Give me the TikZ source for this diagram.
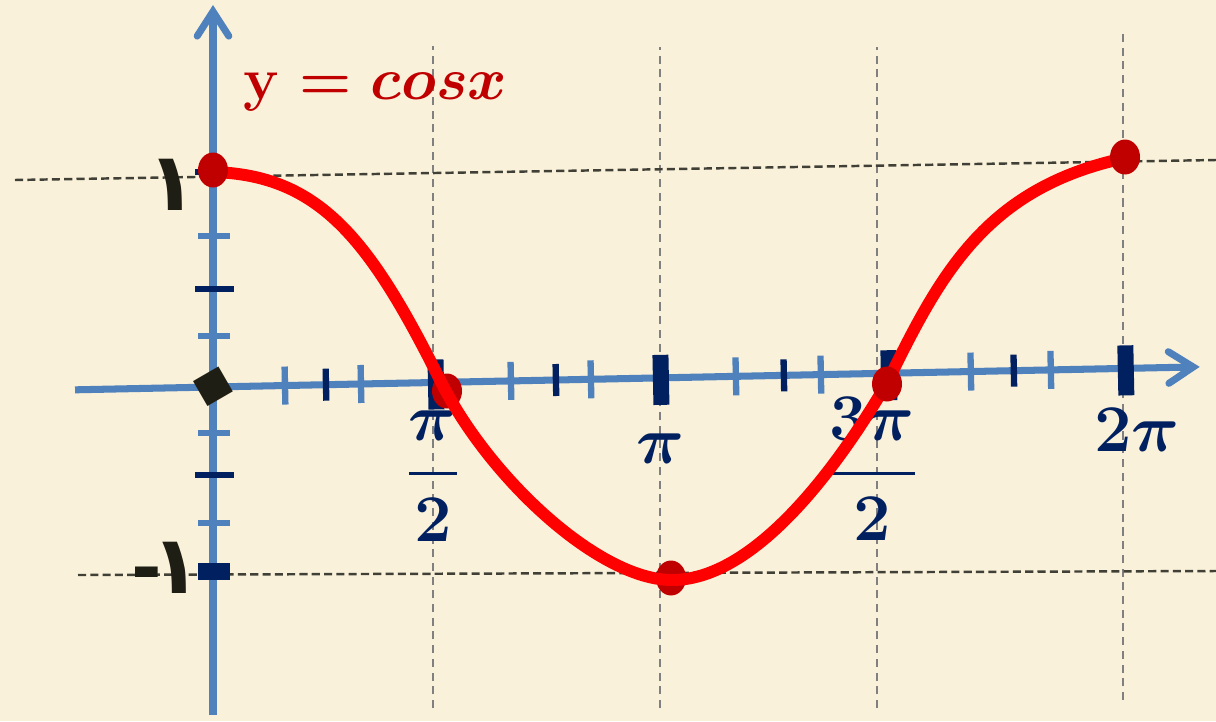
\documentclass[tikz,border=0pt]{standalone}
\usepackage{fix-cm}
\usepackage{amsmath}
\usepackage{fontspec}
\newfontfamily\arabicfont[Script=Arabic]{DejaVu Sans}
\usetikzlibrary{arrows.meta,shapes.geometric}

\definecolor{paper}{RGB}{250,241,218}
\definecolor{axblue}{RGB}{79,129,189}
\definecolor{navy}{RGB}{0,32,96}
\definecolor{darkred}{RGB}{192,0,0}
\definecolor{ink}{RGB}{30,30,20}

\newcommand{\gapfrac}[2]{\genfrac{}{}{0.9pt}{0}{#1\rule[-6pt]{0pt}{0pt}}{\rule{0pt}{15pt}#2}}

\tikzset{
  axline/.style={axblue, line width=2pt, -{Straight Barb[length=7pt,width=9pt,line cap=round]}},
  lbtick/.style={axblue, line width=1.8pt},
  nvtick/.style={navy, line width=1.8pt},
  hdash/.style={ink!85, line width=0.7pt, dash pattern=on 2.3pt off 1.2pt},
  vdash/.style={gray, line width=0.7pt, dash pattern=on 2.3pt off 1.6pt},
  dot/.style={ellipse, fill=darkred, inner sep=0pt, minimum width=0.30cm, minimum height=0.35cm},
  lab/.style={text=navy, inner sep=0pt, font=\fontsize{19}{22}\selectfont\boldmath},
  arab/.style={text=ink, inner sep=0pt, font=\arabicfont\bfseries\fontsize{23}{26}\selectfont}
}

\begin{document}
\begin{tikzpicture}
\fill[paper] (0,0) rectangle (12.16,7.21);
\useasboundingbox (0,0) rectangle (12.16,7.21);

% grid lines
\draw[vdash] (4.33,0.13) -- (4.33,6.75);
\draw[vdash] (6.60,0.13) -- (6.60,6.74);
\draw[vdash] (8.77,0.13) -- (8.77,6.74);
\draw[vdash] (11.23,0.21) -- (11.23,6.89);
\draw[hdash] (0.15,5.41) -- (12.16,5.61);
\draw[hdash] (0.78,1.46) -- (12.16,1.50);

% y axis
\coordinate (ybot) at (2.13,0.06);
\coordinate (ytop) at (2.13,7.16);
\draw[axline] (ybot) -- (ytop);
\foreach \y in {4.85,3.85,2.88,1.98}
  \draw[lbtick] (1.98,\y) -- (2.30,\y);
\foreach \y in {5.49,4.32,2.46}
  \draw[nvtick] (1.95,\y) -- (2.34,\y);
\fill[navy] (1.98,1.41) rectangle (2.30,1.58);

% x axis
\begin{scope}[shift={(2.13,3.34)},rotate=1.17]
\coordinate (xbeg) at (-1.38,0);
\coordinate (xend) at (9.87,0);
\draw[axline] (xbeg) -- (xend);
\foreach \t in {0.72,1.48,2.98,3.78,5.23,6.08,7.58,8.38}
  \draw[lbtick] (\t,-0.19) -- (\t,0.19);
\foreach \t in {1.13,3.43,5.71,8.01}
  \draw[nvtick] (\t,-0.16) -- (\t,0.16);
\foreach \t in {2.23,4.48,6.76,9.13}
  \fill[navy] (\t-0.08,-0.27) rectangle (\t+0.08,0.23);
\end{scope}

% labels
\node[arab] (one) at (1.72,5.36) {١};
\node[arab] (mone) at (1.66,1.53) {{\fontsize{21}{24}\selectfont -}\kern-3pt ١};
\node[arab, rotate=30, font=\arabicfont\bfseries\fontsize{48}{52}\selectfont] (zero) at (2.22,3.20) {٠};
\node[lab] (pihalf) at (4.33,2.45) {$\gapfrac{\pi}{2}$};
\node[lab] (pi) at (6.61,2.72) {$\pi$};
\node[lab] (threepihalf) at (8.72,2.52) {$\gapfrac{3\pi}{2}$};
\node[lab] (twopi) at (11.37,2.91) {$2\pi$};
\node[text=darkred, anchor=base west, inner sep=0pt, font=\fontsize{17}{20}\selectfont\boldmath] (title) at (2.43,6.21) {$\mathbf{y}=cosx$};

% the graph
\node[dot] (p1) at (4.47,3.30) {};
\node[dot] (p2) at (6.71,1.43) {};
\draw[red, line width=3.4pt, line cap=round]
  (2.13,5.49) .. controls (3.2,5.46) and (3.7,4.81) .. (4.40,3.41)
  .. controls (4.9,2.41) and (6.0,1.41) .. (6.72,1.41)
  .. controls (7.5,1.41) and (8.3,2.41) .. (8.87,3.38)
  .. controls (9.4,4.46) and (9.85,5.33) .. (11.25,5.63);
\node[dot] (p0) at (2.13,5.51) {};
\node[dot] (p3) at (8.87,3.37) {};
\node[dot] (p4) at (11.25,5.64) {};
\end{tikzpicture}
\end{document}
